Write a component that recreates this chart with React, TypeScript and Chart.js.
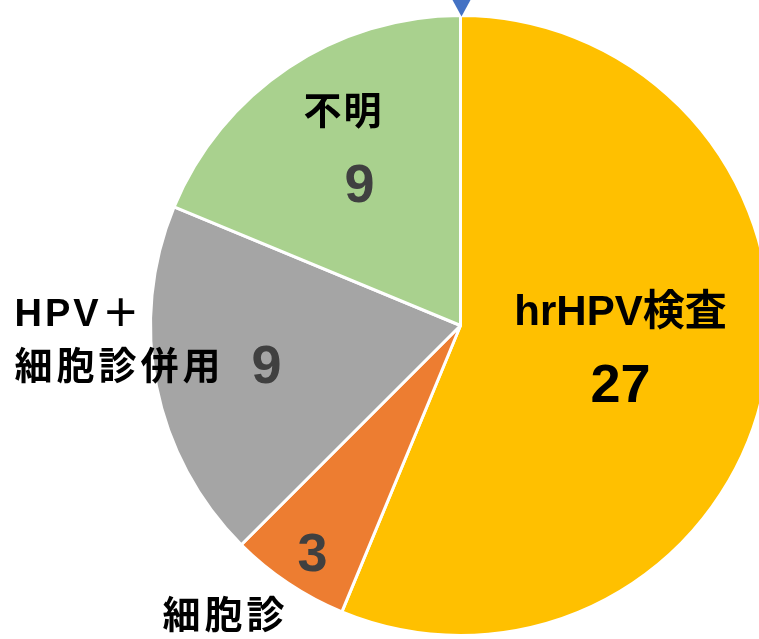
import React, { useEffect, useRef } from "react";
import { Chart, registerables } from "chart.js";

Chart.register(...registerables);

const categories = ["hrHPV検査", "細胞診", "HPV＋細胞診併用", "不明"];
const values = [27, 3, 9, 9];
const colors = ["#FFC000", "#ED7D31", "#A5A5A5", "#A9D18E"];

// label layout (pixel offsets from pie centre at radius 310)
type Line = { text: string; dx: number; dy: number; size: number; color: string; align: CanvasTextAlign; spacing: number };

const FONT = '"Liberation Sans", "Noto Sans CJK JP", sans-serif';

function buildLines(i: number): Line[] {
  const name = categories[i];
  const v = String(values[i]);
  if (i === 0) {
    return [
      { text: name, dx: 160, dy: -12, size: 42, color: "#000000", align: "center", spacing: 0 },
      { text: v, dx: 160, dy: 62, size: 54, color: "#000000", align: "center", spacing: 0 },
    ];
  }
  if (i === 1) {
    return [
      { text: v, dx: -148, dy: 231, size: 54, color: "#404040", align: "center", spacing: 0 },
      { text: name, dx: -235, dy: 292, size: 38, color: "#000000", align: "center", spacing: 4 },
    ];
  }
  if (i === 2) {
    return [
      { text: "HPV＋", dx: -446, dy: -10, size: 38, color: "#000000", align: "left", spacing: 3 },
      { text: name.replace("HPV＋", ""), dx: -446, dy: 43, size: 38, color: "#000000", align: "left", spacing: 4 },
      { text: v, dx: -194, dy: 43, size: 54, color: "#404040", align: "center", spacing: 0 },
    ];
  }
  return [
    { text: name, dx: -117, dy: -212, size: 38, color: "#000000", align: "center", spacing: 2 },
    { text: v, dx: -101, dy: -138, size: 54, color: "#404040", align: "center", spacing: 0 },
  ];
}

const labelPlugin = {
  id: "sliceLabels",
  afterDatasetsDraw(chart: any) {
    const ctx = chart.ctx as CanvasRenderingContext2D;
    const meta = chart.getDatasetMeta(0);
    const arc0 = meta.data[0] as any;
    const cx = arc0.x, cy = arc0.y, r = arc0.outerRadius;
    const k = r / 310;
    ctx.save();
    ctx.textBaseline = "middle";
    for (let i = 0; i < values.length; i++) {
      for (const l of buildLines(i)) {
        ctx.font = `bold ${l.size}px ${FONT}`;
        ctx.fillStyle = l.color;
        ctx.textAlign = l.align;
        (ctx as any).letterSpacing = `${l.spacing}px`;
        ctx.fillText(l.text, cx + l.dx * k, cy + l.dy * k);
      }
    }
    // marker triangle at top
    ctx.fillStyle = "#4472C4";
    ctx.beginPath();
    ctx.moveTo(cx - 8, 0);
    ctx.lineTo(cx + 10, 0);
    ctx.lineTo(cx + 1, cy - r + 1);
    ctx.closePath();
    ctx.fill();
    ctx.restore();
  },
};

export default function App() {
  const ref = useRef<HTMLCanvasElement | null>(null);
  useEffect(() => {
    document.body.style.margin = "0";
    const chart = new Chart(ref.current!, {
      type: "pie",
      data: {
        labels: categories,
        datasets: [
          {
            data: values,
            backgroundColor: colors,
            borderColor: "#FFFFFF",
            borderWidth: 3,
          },
        ],
      },
      options: {
        responsive: false,
        animation: false,
        layout: { padding: { left: 149, top: 14, right: 28, bottom: 2 } },
        plugins: { legend: { display: false }, tooltip: { enabled: false } },
      },
      plugins: [labelPlugin],
    });
    return () => chart.destroy();
  }, []);
  return (
    <div style={{ position: "absolute", left: 0, top: 0, width: 759, height: 639, overflow: "hidden", background: "#fff" }}>
      <canvas ref={ref} width={800} height={639} style={{ width: 800, height: 639 }} />
    </div>
  );
}
